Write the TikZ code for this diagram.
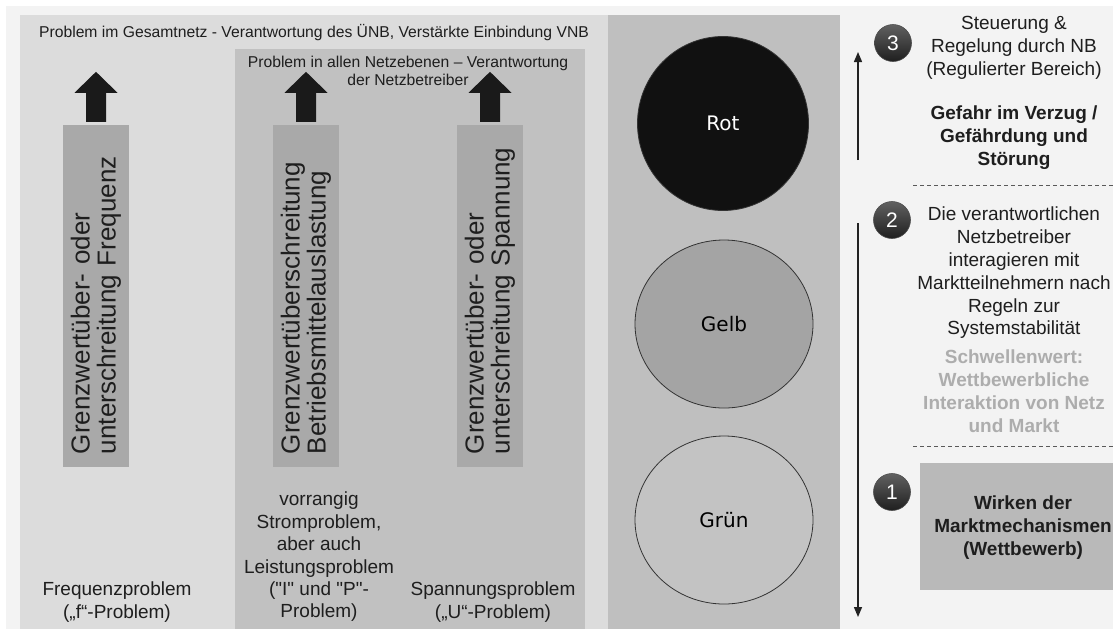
\documentclass[tikz,border=0pt]{standalone}
\usepackage{fontspec}
\setmainfont{Liberation Sans}
\newfontfamily\plainfont{Liberation Sans}
\newfontfamily\dejavu{DejaVu Sans}
\usetikzlibrary{arrows.meta,shapes.geometric,calc}
\definecolor{pagebg}{HTML}{F3F3F3}
\definecolor{panelL}{HTML}{DCDCDC}
\definecolor{panelM}{HTML}{C1C1C1}
\definecolor{panelC}{HTML}{BFBFBF}
\definecolor{rboxc}{HTML}{A9A9A9}
\definecolor{mboxc}{HTML}{B9B9B9}
\definecolor{rotc}{HTML}{111111}
\definecolor{gelbc}{HTML}{A4A4A4}
\definecolor{gruenc}{HTML}{C3C3C3}
\definecolor{txtc}{HTML}{1E1E1E}
\definecolor{greytxt}{HTML}{ADADAD}
\definecolor{arrowc}{HTML}{1A1A1A}
\definecolor{linec}{HTML}{222222}
\newcommand\myfsTop{\fontsize{15.7}{17.5}\selectfont}
\newcommand\myfsBot{\fontsize{19}{22.4}\selectfont}
\newcommand\myfsRot{\fontsize{26}{26}\selectfont}
\newcommand\myfsRight{\fontsize{19}{22.8}\selectfont}
\begin{document}
\begin{tikzpicture}[x=1pt,y=-1pt,
  lbl/.style={inner sep=0pt, align=center, text=txtc},
  rbx/.style={rotate=90, fill=rboxc, minimum height=66, text width=316, inner xsep=13, inner ysep=0, minimum width=342, align=left, font=\myfsRot, text=txtc},
  lamp/.style={ellipse, draw=black!80, line width=0.8pt, inner sep=0pt, font=\dejavu\fontsize{20}{24}\selectfont},
  ball/.style={circle, minimum size=37, inner sep=0pt, top color=black!62, bottom color=black!88, draw=black!70, line width=0.6pt, text=white, font=\fontsize{21}{21}\selectfont},
  vline/.style={draw=linec, line width=1.4pt, -{Triangle[length=10,width=8]}},
  dline/.style={draw=black!65, line width=0.8pt, dash pattern=on 4pt off 3pt},
  blockarrow/.style={fill=arrowc}
]
\useasboundingbox (0,0) rectangle (1113,630);
\fill[white] (0,0) rectangle (1113,630);
\fill[pagebg] (6,6) rectangle (1113,629);
% panels
\fill[panelL] (20,15) rectangle (608,629);
\fill[panelM] (235,49) rectangle (585,629);
\fill[panelC] (608,15) rectangle (840,629);

% headings
\node[lbl, font=\myfsTop] (head1) at (314,33) {Problem im Gesamtnetz - Verantwortung des ÜNB, Verstärkte Einbindung VNB};
\node[lbl, font=\myfsTop] (head2) at (408,71) {Problem in allen Netzebenen – Verantwortung\\der Netzbetreiber};

% rotated boxes
\node[rbx] (b1) at (96,296) {Grenzwertüber- oder\\unterschreitung Frequenz};
\node[rbx] (b2) at (306,296) {Grenzwertüberschreitung\\Betriebsmittelauslastung};
\node[rbx] (b3) at (490,296) {Grenzwertüber- oder\\unterschreitung Spannung};

% block arrows
\foreach \b in {b1,b2,b3}
  \fill[blockarrow] ($(\b.east)+(-10,-3)$) -- ++(0,-29) -- ++(-11.5,0) -- ++(21.5,-21) -- ++(21.5,21) -- ++(-11.5,0) -- ++(0,29) -- cycle;

% bottom texts
\node[lbl, font=\myfsBot] (fp) at (117,602) {Frequenzproblem\\(„f“-Problem)};
\node[lbl, font=\plainfont\myfsBot] (ip) at (319,557) {vorrangig\\Stromproblem,\\aber auch\\Leistungsproblem\\("I" und "P"-\\Problem)};
\node[lbl, font=\myfsBot] (up) at (493,602) {Spannungsproblem\\(„U“-Problem)};

% lamps
\node[lamp, fill=rotc, minimum width=171, minimum height=174, text=white] (rot) at (723,123.5) {Rot};
\node[lamp, fill=gelbc, minimum width=178, minimum height=168] (gelb) at (724,324) {Gelb};
\node[lamp, fill=gruenc, minimum width=178, minimum height=168] (gruen) at (724,520) {Grün};

% vertical arrows
\coordinate (a1s) at (858,160);
\coordinate (a1e) at (858,52);
\coordinate (a2s) at (858,223);
\coordinate (a2e) at (858,617);
\draw[vline] (a1s) -- (a1e);
\draw[vline] (a2s) -- (a2e);

% number balls
\node[ball] (n3) at (893,43) {3};
\node[ball] (n2) at (892,220) {2};
\node[ball] (n1) at (892,492) {1};

% right texts
\node[lbl, font=\myfsRight] (t3) at (1014,48) {Steuerung \&\\Regelung durch NB\\(Regulierter Bereich)};
\node[lbl, font=\myfsRight\bfseries] (t3b) at (1014,137.5) {Gefahr im Verzug /\\Gefährdung und\\Störung};
\coordinate (d1a) at (913,185);
\coordinate (d1b) at (1113,185);
\draw[dline] (d1a) -- (d1b);
\node[lbl, font=\myfsRight] (t2) at (1014,273) {Die verantwortlichen\\Netzbetreiber\\interagieren mit\\Marktteilnehmern nach\\Regeln zur\\Systemstabilität};
\node[lbl, font=\myfsRight\bfseries, text=greytxt] (t2b) at (1014,391) {Schwellenwert:\\Wettbewerbliche\\Interaktion von Netz\\und Markt};
\coordinate (d2a) at (913,446);
\coordinate (d2b) at (1113,446);
\draw[dline] (d2a) -- (d2b);
\fill[mboxc] (920,463) rectangle (1113,590);
\node[lbl, font=\myfsRight\bfseries] (t1) at (1023,527.5) {Wirken der\\Marktmechanismen\\(Wettbewerb)};
\end{tikzpicture}
\end{document}
